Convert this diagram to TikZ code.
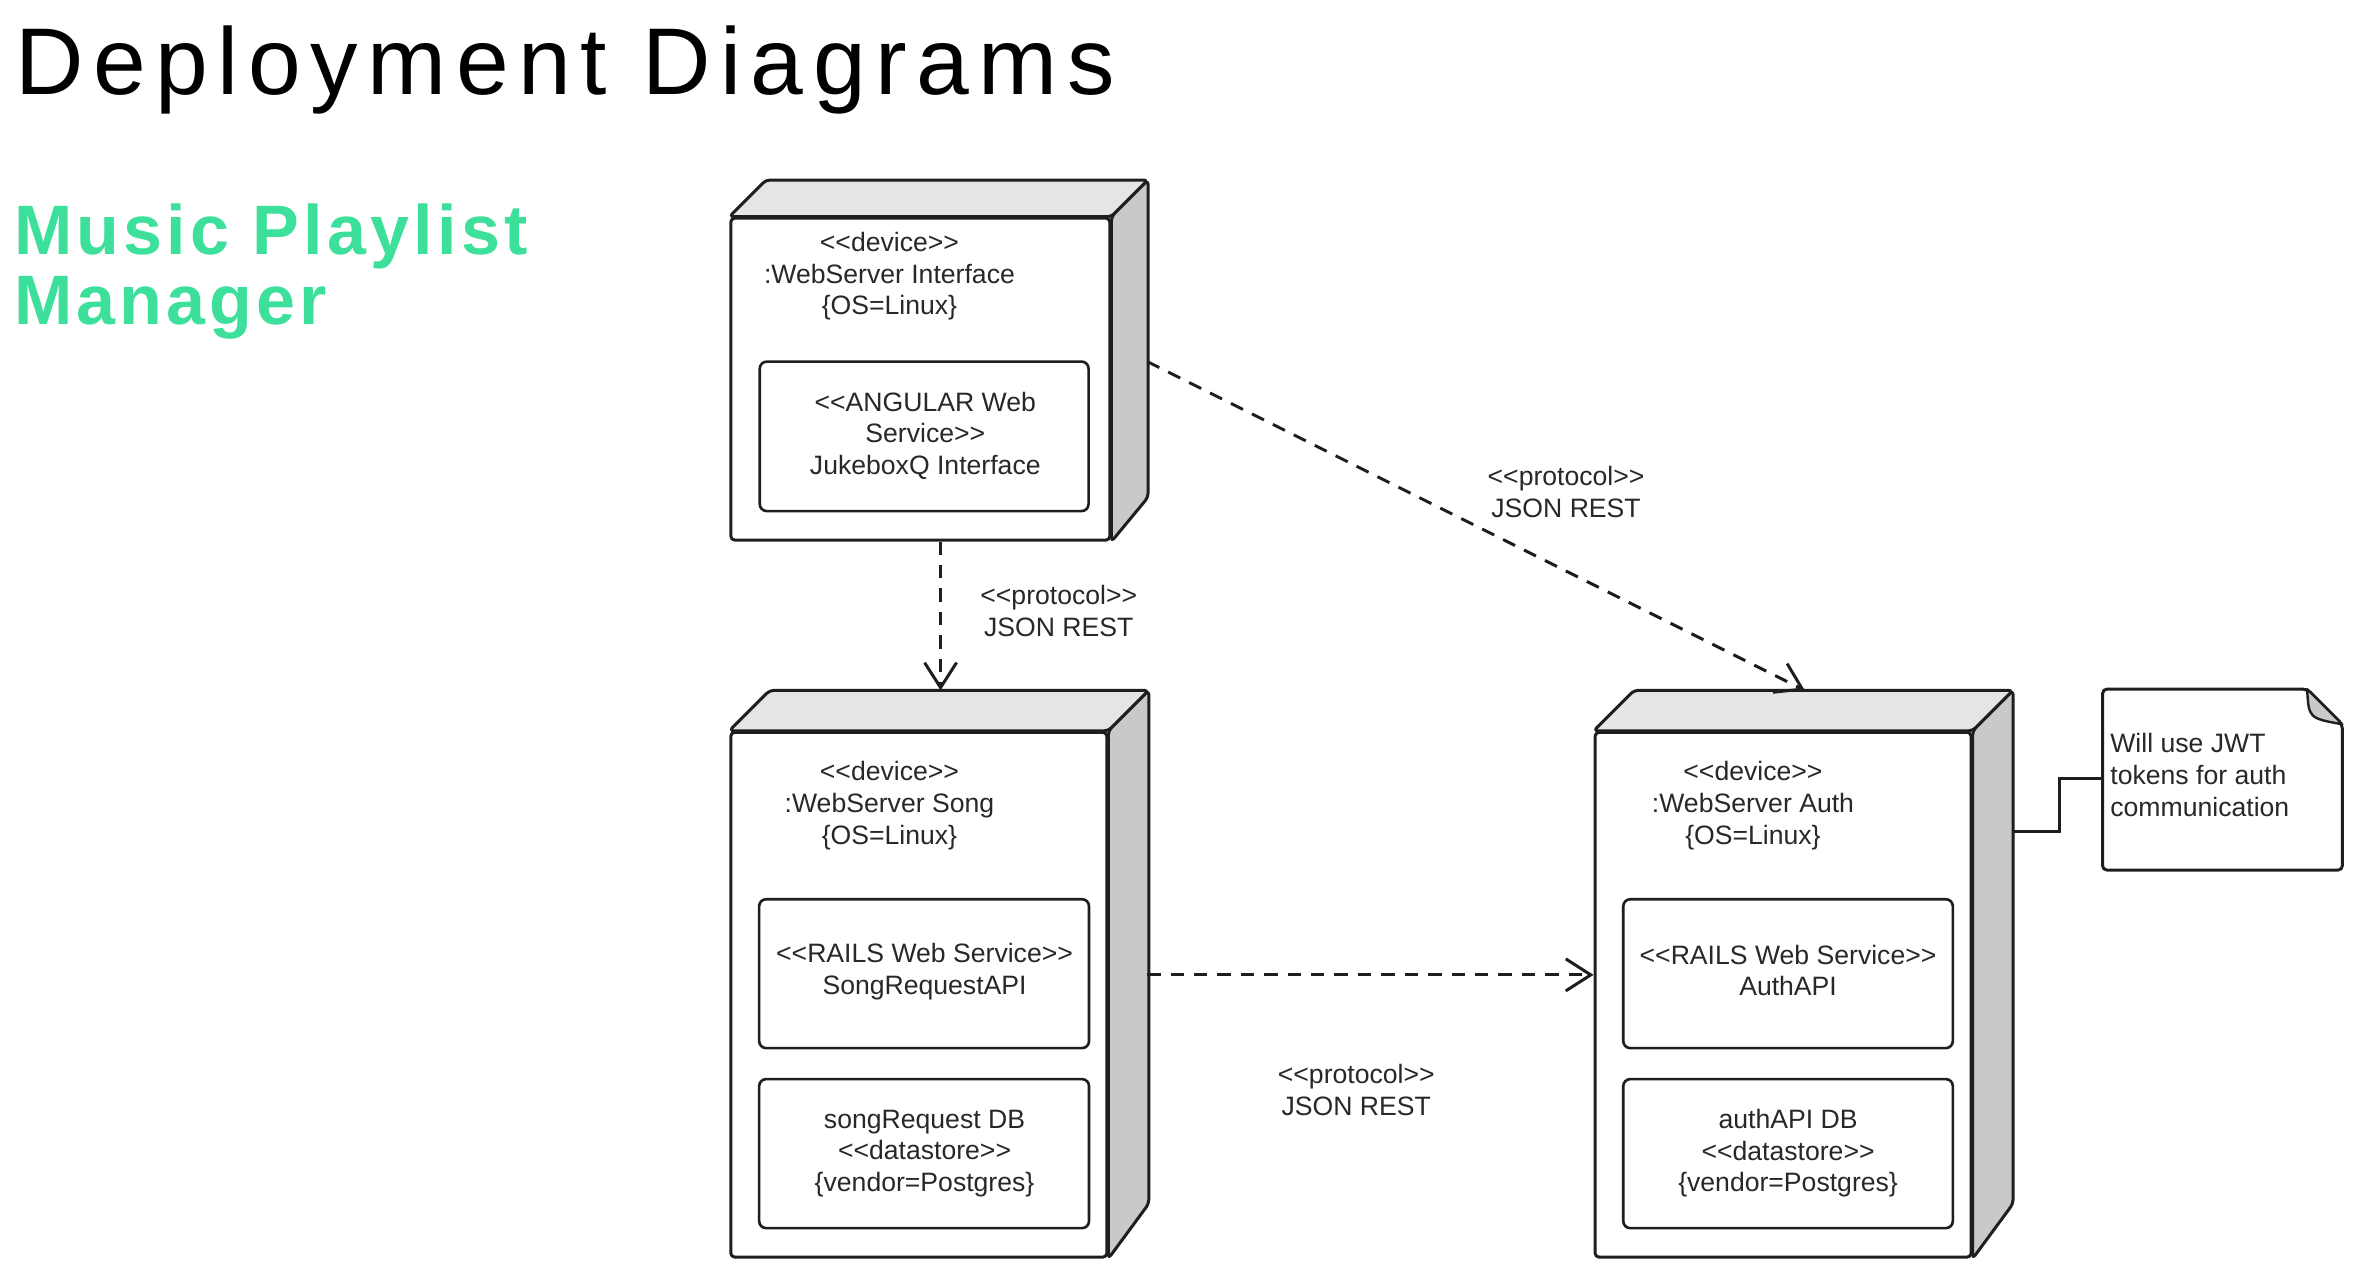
\documentclass[tikz,border=0pt]{standalone}
\usepackage{fontspec}
\setmainfont{Liberation Sans}
\newfontfamily\titlefont{Liberation Sans}[LetterSpace=10]
\newfontfamily\subfont{Liberation Sans}[LetterSpace=6]
\usetikzlibrary{arrows.meta,fit}
\definecolor{mint}{RGB}{60,224,155}
\definecolor{topgray}{RGB}{229,229,229}
\definecolor{sidegray}{RGB}{201,201,201}
\definecolor{ink}{RGB}{30,30,30}
\definecolor{txt}{RGB}{40,40,40}
\newcommand{\LL}{<\kern0pt<}
\newcommand{\GG}{>\kern0pt>}
\begin{document}
\begin{tikzpicture}[x=0.7628pt,y=-0.7628pt,
  outline/.style={draw=ink,line width=1.5pt,line join=round,rounded corners=2pt},
  front/.style={outline,fill=white,inner sep=0pt},
  topface/.style={outline,fill=topgray},
  sideface/.style={outline,fill=sidegray},
  inbox/.style={draw=ink,line width=1.3pt,rounded corners=3.5pt,fill=white,inner sep=0pt},
  lbl/.style={font=\fontsize{13.3}{15.8}\selectfont,text=txt,align=center,inner sep=0pt},
  dep/.style={draw=ink,line width=1.5pt,dash pattern=on 6.7pt off 5pt,
    -{Straight Barb[length=12.5pt,width=16pt]}},
  notelink/.style={draw=ink,line width=1.5pt}]
\useasboundingbox (0,0) rectangle (1560,841);

% headings
\node[anchor=base west,inner sep=0pt,font=\titlefont\fontsize{47.4}{56}\selectfont] (title) at (10,62) {Deployment Diagrams};
\node[anchor=base west,inner sep=0pt,text=mint,font=\subfont\bfseries\fontsize{35}{40}\selectfont] (sub1) at (9,167) {Music Playlist};
\node[anchor=base west,inner sep=0pt,text=mint,font=\subfont\bfseries\fontsize{35}{40}\selectfont] (sub2) at (9,212.5) {Manager};

% device 1 : WebServer Interface
\node[front,fit={(479,143) (727.5,354)}] (dev1) {};
\draw[topface] (dev1.north west) -- ([shift={(24,-24)}]dev1.north west) -- ([shift={(24,-24)}]dev1.north east) -- (dev1.north east) -- cycle;
\draw[sideface] (dev1.north east) -- ([shift={(24,-24)}]dev1.north east) -- ([shift={(24,-29)}]dev1.south east) -- (dev1.south east) -- cycle;
\node[lbl] (dev1txt) at (583,181) {\LL device\GG\\:WebServer Interface\\\{OS=Linux\}};
\node[inbox,fit={(498,237) (713.5,335)}] (ang) {};
\node[lbl] (angtxt) at (606.5,285.5) {\LL ANGULAR Web\\Service\GG\\JukeboxQ Interface};

% device 2 : WebServer Song
\node[front,fit={(479,480) (725.5,824)}] (dev2) {};
\draw[topface] (dev2.north west) -- ([shift={(26.5,-26.5)}]dev2.north west) -- ([shift={(26.5,-26.5)}]dev2.north east) -- (dev2.north east) -- cycle;
\draw[sideface] (dev2.north east) -- ([shift={(26.5,-26.5)}]dev2.north east) -- ([shift={(26.5,-36)}]dev2.south east) -- (dev2.south east) -- cycle;
\node[lbl] (dev2txt) at (583,528) {\LL device\GG\\:WebServer Song\\\{OS=Linux\}};
\node[inbox,fit={(497.6,589.4) (713.8,687)}] (songapi) {};
\node[lbl] (songapitxt) at (606,637) {\LL RAILS Web Service\GG\\SongRequestAPI};
\node[inbox,fit={(497.6,707.3) (713.8,805)}] (songdb) {};
\node[lbl] (songdbtxt) at (606,756) {songRequest DB\\\LL datastore\GG\\\{vendor=Postgres\}};

% device 3 : WebServer Auth
\node[front,fit={(1045.5,480) (1292,824)}] (dev3) {};
\draw[topface] (dev3.north west) -- ([shift={(26.5,-26.5)}]dev3.north west) -- ([shift={(26.5,-26.5)}]dev3.north east) -- (dev3.north east) -- cycle;
\draw[sideface] (dev3.north east) -- ([shift={(26.5,-26.5)}]dev3.north east) -- ([shift={(26.5,-36)}]dev3.south east) -- (dev3.south east) -- cycle;
\node[lbl] (dev3txt) at (1149,528) {\LL device\GG\\:WebServer Auth\\\{OS=Linux\}};
\node[inbox,fit={(1064,589.4) (1280,687)}] (authapi) {};
\node[lbl] (authapitxt) at (1172,636) {\LL RAILS Web Service\GG\\AuthAPI};
\node[inbox,fit={(1064,707.3) (1280,805)}] (authdb) {};
\node[lbl] (authdbtxt) at (1172,756) {authAPI DB\\\LL datastore\GG\\\{vendor=Postgres\}};

% note
\node[inner sep=0pt,fit={(1378.5,452) (1535,570)}] (note) {};
\draw[outline,fill=white] (note.north west) -- ([shift={(-23,0)}]note.north east) -- ([shift={(0,23)}]note.north east) -- (note.south east) -- (note.south west) -- cycle;
\draw[draw=ink,line width=1.2pt,line join=round,fill=sidegray] ([shift={(-23,0)}]note.north east) .. controls ([shift={(-22,19)}]note.north east) .. ([shift={(0,23)}]note.north east) -- cycle;
\node[lbl,anchor=west,align=left] (notetxt) at (1383,508) {Will use JWT\\tokens for auth\\communication};

% connection points
\coordinate (x1) at (616.5,0);
\coordinate (d2back) at ([shift={(26.5,-26.5)}]dev2.north west);
\coordinate (d3back) at ([shift={(26.5,-26.5)}]dev3.north west);
\coordinate (s2) at (752,237);
\coordinate (x2) at (1183,0);
\coordinate (s3) at (752,639);
\coordinate (nl1) at (1318.5,545);
\coordinate (nl2) at (1350,510.5);

% connectors
\draw[dep] (dev1.south -| x1) -- (d2back -| x1);
\draw[dep] (s2) -- (d3back -| x2);
\draw[dep] (s3) -- (dev3.west |- s3);
\draw[notelink] (nl1) -| (nl2) -- (note.west |- nl2);

% connector labels
\node[lbl] (p1) at (694,400.5) {\LL protocol\GG\\JSON REST};
\node[lbl] (p2) at (1026.5,322.5) {\LL protocol\GG\\JSON REST};
\node[lbl] (p3) at (889,714.5) {\LL protocol\GG\\JSON REST};
\end{tikzpicture}
\end{document}
